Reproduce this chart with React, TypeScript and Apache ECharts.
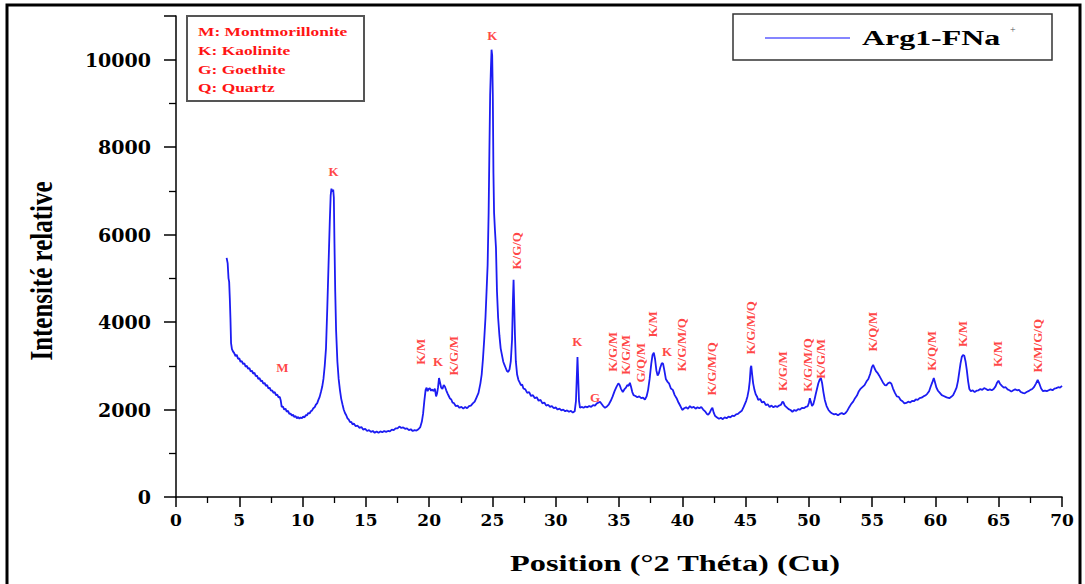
import React, { useEffect, useRef } from "react";
import * as echarts from "echarts";

const seriesName = "Arg1-FNa";

// Diffractogram [2θ, intensity] in segments
const segLowAngle: [number, number][] = [
  [4.0, 5470], [4.08, 5350], [4.15, 5000], [4.2, 4920], [4.25, 4550], [4.3, 4100], [4.35, 3520], [4.42, 3380], [4.5, 3330], [4.6, 3290],
  [4.7, 3220], [4.8, 3250], [4.9, 3160], [5.0, 3170], [5.1, 3090], [5.2, 3110], [5.3, 3040], [5.4, 3060], [5.5, 2980], [5.6, 3000],
  [5.7, 2930], [5.8, 2950], [5.9, 2870], [6.0, 2890], [6.1, 2820], [6.2, 2840], [6.3, 2760], [6.4, 2780], [6.5, 2700], [6.6, 2720],
  [6.7, 2650], [6.8, 2660], [6.9, 2590], [7.0, 2610], [7.1, 2540], [7.2, 2560], [7.3, 2480], [7.4, 2500], [7.5, 2430], [7.6, 2440],
  [7.7, 2380], [7.8, 2400], [7.9, 2330], [8.0, 2340], [8.1, 2280], [8.2, 2290], [8.28, 2200], [8.35, 2060], [8.45, 2070], [8.55, 2000],
  [8.65, 2020], [8.75, 1950], [8.85, 1970], [8.95, 1900], [9.05, 1910], [9.15, 1860], [9.25, 1880], [9.35, 1830], [9.45, 1850], [9.55, 1800],
  [9.65, 1830], [9.75, 1790], [9.85, 1820], [9.95, 1800], [10.05, 1840], [10.15, 1820], [10.25, 1870], [10.35, 1870], [10.45, 1920], [10.55, 1910],
  [10.65, 1960], [10.75, 1980], [10.85, 2030], [10.95, 2050], [11.05, 2110], [11.15, 2140], [11.25, 2220], [11.35, 2290], [11.45, 2400], [11.55, 2520],
  [11.65, 2700], [11.75, 3000], [11.85, 3400], [11.95, 4300], [12.05, 5300], [12.15, 6300], [12.22, 6900], [12.28, 7050], [12.35, 6980], [12.42, 7030],
  [12.47, 6850], [12.52, 5800], [12.58, 4700], [12.65, 3800], [12.75, 3100], [12.85, 2700], [12.95, 2450], [13.05, 2250], [13.15, 2120], [13.25, 2000],
  [13.35, 1920],
];

const segClayBand: [number, number][] = [
  [13.45, 1870], [13.55, 1800], [13.65, 1770], [13.75, 1710], [13.85, 1720], [13.95, 1660], [14.05, 1680], [14.2, 1620], [14.35, 1630], [14.5, 1580],
  [14.65, 1600], [14.8, 1540], [14.95, 1560], [15.1, 1510], [15.25, 1530], [15.4, 1490], [15.55, 1510], [15.7, 1470], [15.85, 1500], [16.0, 1470],
  [16.15, 1500], [16.3, 1480], [16.45, 1510], [16.6, 1490], [16.75, 1510], [16.9, 1500], [17.05, 1540], [17.2, 1530], [17.35, 1570], [17.5, 1570],
  [17.65, 1610], [17.8, 1580], [17.95, 1590], [18.1, 1560], [18.25, 1570], [18.4, 1530], [18.55, 1550], [18.7, 1510], [18.85, 1530], [19.0, 1520],
  [19.15, 1550], [19.3, 1600], [19.42, 1720], [19.52, 1900], [19.62, 2200], [19.72, 2450], [19.8, 2500], [19.88, 2420], [19.96, 2470], [20.05, 2490],
  [20.15, 2430], [20.25, 2460], [20.35, 2420], [20.45, 2480], [20.55, 2300], [20.62, 2360], [20.7, 2500], [20.78, 2720], [20.86, 2620], [20.95, 2500],
  [21.05, 2470], [21.15, 2560], [21.25, 2520], [21.35, 2440], [21.45, 2370], [21.55, 2310], [21.65, 2250], [21.75, 2230], [21.85, 2160], [21.95, 2150],
  [22.1, 2080], [22.25, 2090], [22.4, 2040], [22.55, 2060], [22.7, 2020], [22.85, 2060], [23.0, 2030], [23.15, 2080], [23.3, 2090], [23.45, 2140],
  [23.6, 2180], [23.75, 2280], [23.9, 2380],
];

const segMainPeak: [number, number][] = [
  [24.05, 2600], [24.15, 2800], [24.25, 3150], [24.35, 3600], [24.45, 4100], [24.55, 4800], [24.62, 5300], [24.7, 6500], [24.76, 7900], [24.82, 9200],
  [24.88, 9800], [24.93, 10230], [24.98, 10100], [25.03, 9200], [25.08, 7400], [25.13, 6500], [25.2, 6100], [25.28, 5700], [25.36, 4700], [25.45, 4100],
  [25.55, 3700], [25.65, 3400], [25.75, 3250], [25.85, 3100], [25.95, 3020], [26.05, 2950], [26.15, 2880], [26.25, 2860], [26.35, 2920], [26.45, 3100],
  [26.55, 3600], [26.62, 4500], [26.67, 4970], [26.72, 4400], [26.78, 3700], [26.85, 3100], [26.95, 2800], [27.05, 2680], [27.15, 2620], [27.25, 2560],
  [27.35, 2570], [27.45, 2480], [27.6, 2460], [27.75, 2380], [27.9, 2400], [28.05, 2310], [28.2, 2330], [28.35, 2260], [28.5, 2280], [28.65, 2200],
  [28.8, 2220], [28.95, 2140], [29.1, 2160], [29.25, 2090], [29.4, 2110], [29.55, 2060], [29.7, 2080], [29.85, 2030], [30.0, 2050], [30.15, 2000],
  [30.3, 2020], [30.45, 1980], [30.6, 2000], [30.75, 1960], [30.9, 1980], [31.05, 1950], [31.2, 1970], [31.35, 1930], [31.5, 1960], [31.6, 2200],
  [31.66, 2700], [31.72, 3200], [31.78, 2700], [31.84, 2200], [31.92, 2040],
];

const segMidAngle: [number, number][] = [
  [32.05, 2060], [32.2, 2040], [32.35, 2070], [32.5, 2050], [32.65, 2080], [32.8, 2060], [32.95, 2100], [33.1, 2090], [33.25, 2140], [33.4, 2160],
  [33.5, 2180], [33.6, 2140], [33.75, 2080], [33.9, 2040], [34.05, 2070], [34.2, 2120], [34.35, 2200], [34.5, 2300], [34.65, 2420], [34.8, 2520],
  [34.95, 2600], [35.05, 2560], [35.15, 2480], [35.3, 2400], [35.42, 2460], [35.55, 2500], [35.65, 2560], [35.75, 2540], [35.86, 2610], [35.95, 2520],
  [36.05, 2400], [36.15, 2330], [36.3, 2310], [36.45, 2280], [36.6, 2300], [36.75, 2260], [36.9, 2270], [37.05, 2230], [37.18, 2300], [37.3, 2450],
  [37.42, 2700], [37.55, 3050], [37.65, 3250], [37.75, 3300], [37.85, 3150], [37.95, 2900], [38.05, 2780], [38.15, 2830], [38.25, 2950], [38.38, 3060],
  [38.48, 3050], [38.58, 2900], [38.7, 2700], [38.82, 2640], [38.95, 2600], [39.1, 2480], [39.25, 2450], [39.4, 2330], [39.55, 2260], [39.7, 2160],
  [39.85, 2080], [40.0, 1990], [40.15, 2030], [40.3, 2050], [40.45, 2020], [40.6, 2080], [40.75, 2040], [40.9, 2060], [41.05, 2020], [41.2, 2050],
  [41.35, 2030], [41.5, 2060], [41.65, 2000], [41.8, 1960], [41.95, 1900], [42.05, 1880], [42.15, 1920], [42.28, 2000], [42.38, 2040], [42.48, 1930],
  [42.6, 1850], [42.75, 1820], [42.9, 1790], [43.05, 1810], [43.2, 1780], [43.35, 1820], [43.5, 1800], [43.65, 1840], [43.8, 1820], [43.95, 1860],
  [44.1, 1850], [44.25, 1890], [44.4, 1900], [44.55, 1940], [44.7, 1970], [44.85, 2060], [44.95, 2130],
];

const segHighAngle: [number, number][] = [
  [45.05, 2200], [45.15, 2300], [45.25, 2450], [45.33, 2650], [45.4, 2950], [45.45, 3000], [45.52, 2800], [45.6, 2600], [45.7, 2450], [45.8, 2350],
  [45.9, 2300], [46.0, 2220], [46.15, 2240], [46.3, 2160], [46.45, 2180], [46.6, 2100], [46.75, 2120], [46.9, 2060], [47.05, 2090], [47.2, 2050],
  [47.35, 2080], [47.5, 2060], [47.65, 2090], [47.8, 2110], [47.92, 2180], [48.0, 2160], [48.1, 2090], [48.25, 2050], [48.4, 2010], [48.55, 1990],
  [48.7, 1950], [48.85, 1990], [49.0, 1970], [49.15, 2010], [49.3, 2000], [49.45, 2040], [49.6, 2030], [49.75, 2060], [49.9, 2070], [50.0, 2150],
  [50.08, 2260], [50.16, 2170], [50.25, 2080], [50.35, 2120], [50.45, 2230], [50.55, 2360], [50.65, 2480], [50.75, 2600], [50.85, 2680], [50.95, 2720],
  [51.05, 2600], [51.15, 2400], [51.26, 2220], [51.4, 2080], [51.55, 1990], [51.7, 1940], [51.85, 1910], [52.0, 1890], [52.15, 1900], [52.3, 1870],
  [52.45, 1900], [52.6, 1920], [52.75, 1890], [52.9, 1920], [53.05, 1980], [53.2, 2060], [53.35, 2130], [53.5, 2180], [53.65, 2260], [53.8, 2320],
  [53.95, 2420], [54.1, 2480], [54.25, 2520], [54.4, 2560], [54.55, 2640], [54.7, 2700], [54.85, 2820], [54.98, 2970], [55.08, 3020], [55.18, 2950],
  [55.3, 2880], [55.42, 2840], [55.55, 2780], [55.7, 2700], [55.85, 2620], [56.0, 2560], [56.12, 2550], [56.25, 2600], [56.4, 2620], [56.52, 2590],
  [56.65, 2480], [56.8, 2380], [56.95, 2300],
];

const segTail: [number, number][] = [
  [57.1, 2290], [57.25, 2220], [57.4, 2190], [57.55, 2140], [57.7, 2150], [57.85, 2180], [58.0, 2160], [58.15, 2200], [58.3, 2190], [58.45, 2230],
  [58.6, 2220], [58.75, 2260], [58.9, 2270], [59.05, 2300], [59.2, 2320], [59.35, 2360], [59.5, 2420], [59.62, 2520], [59.75, 2620], [59.87, 2720],
  [59.97, 2620], [60.08, 2500], [60.2, 2430], [60.35, 2380], [60.5, 2330], [60.65, 2310], [60.8, 2290], [60.95, 2270], [61.1, 2260], [61.25, 2290],
  [61.4, 2330], [61.55, 2420], [61.67, 2500], [61.78, 2650], [61.88, 2850], [61.98, 3050], [62.08, 3200], [62.18, 3250], [62.28, 3230], [62.38, 3100],
  [62.48, 2900], [62.58, 2650], [62.68, 2470], [62.8, 2420], [62.95, 2440], [63.1, 2400], [63.25, 2430], [63.4, 2440], [63.55, 2470], [63.7, 2450],
  [63.85, 2490], [64.0, 2470], [64.15, 2440], [64.3, 2460], [64.45, 2440], [64.6, 2470], [64.75, 2530], [64.88, 2620], [64.98, 2660], [65.1, 2590],
  [65.25, 2540], [65.4, 2500], [65.55, 2510], [65.7, 2460], [65.85, 2440], [66.0, 2410], [66.15, 2440], [66.3, 2460], [66.45, 2440], [66.6, 2450],
  [66.75, 2400], [66.9, 2380], [67.05, 2370], [67.2, 2400], [67.35, 2420], [67.5, 2450], [67.65, 2470], [67.8, 2520], [67.95, 2600], [68.08, 2680],
  [68.2, 2600], [68.35, 2480], [68.5, 2420], [68.65, 2430], [68.8, 2420], [68.95, 2440], [69.1, 2460], [69.25, 2440], [69.4, 2480], [69.55, 2490],
  [69.7, 2510], [69.85, 2500], [70.0, 2540],
];

// Peak annotations (2θ, intensity, label, vertical?)
const annoX: number[] = [8.4, 12.45, 19.35, 20.7, 21.9, 25.0, 26.9, 31.7, 33.1, 34.45, 35.55, 36.7, 37.65, 38.8, 39.95, 42.3, 45.4, 47.95, 49.9, 50.95, 55.0, 59.7, 62.15, 64.9, 68.1];
const annoY: number[] = [2970, 7440, 3320, 3090, 3230, 10550, 5630, 3550, 2270, 3320, 3250, 3070, 3950, 3320, 3480, 2930, 3870, 2880, 3020, 3160, 3780, 3340, 3730, 3270, 3460];
const annoText: string[] = ["M", "K", "K/M", "K", "K/G/M", "K", "K/G/Q", "K", "G", "K/G/M", "K/G/M", "G/Q/M", "K/M", "K", "K/G/M/Q", "K/G/M/Q", "K/G/M/Q", "K/G/M", "K/G/M/Q", "K/G/M", "K/Q/M", "K/Q/M", "K/M", "K/M", "K/M/G/Q"];
const annoVertical: boolean[] = [false, false, true, false, true, false, true, false, false, true, true, true, true, false, true, true, true, true, true, true, true, true, true, true, true];

const keyLines: string[] = ["M: Montmorillonite", "K: Kaolinite", "G: Goethite", "Q: Quartz"];

const xTitle = "Position (°2 Théta) (Cu)";
const yTitle = "Intensité relative";

export default function App() {
  const ref = useRef<HTMLDivElement>(null);

  useEffect(() => {
    if (!ref.current) return;
    document.body.style.margin = "0";
    const chart = echarts.init(ref.current, undefined, { renderer: "svg" });
    const red = "#ff1414";
    const serif = "'Liberation Serif', 'Times New Roman', serif";
    const tickFont = "'DejaVu Serif', serif";

    const lineData = [
      ...segLowAngle,
      ...segClayBand,
      ...segMainPeak,
      ...segMidAngle,
      ...segHighAngle,
      ...segTail,
    ];
    const annoData = annoX.map((x, i) => ({
      name: annoText[i],
      value: [x, annoY[i]],
      label: { rotate: annoVertical[i] ? 90 : 0 },
    }));

    const keyGraphics: any[] = keyLines.map((t, i) => ({
      type: "text",
      x: 198,
      y: 32 + i * 18.8,
      scaleX: 1.45,
      z: 20,
      style: {
        text: t,
        fill: red,
        fontFamily: serif,
        fontWeight: "bold",
        fontSize: 12,
        align: "left",
        verticalAlign: "middle",
        textAlign: "left",
        textVerticalAlign: "middle",
      },
    }));

    const option: any = {
      animation: false,
      backgroundColor: "#ffffff",
      grid: { left: 176, right: 23, top: 16, bottom: 87, containLabel: false },
      tooltip: { show: false },
      xAxis: {
        type: "value",
        min: 0,
        max: 70,
        interval: 5,
        splitLine: { show: false },
        axisLine: { show: true, onZero: false, lineStyle: { color: "#000", width: 1.5 } },
        axisTick: { show: true, length: 10, lineStyle: { color: "#000", width: 1.5 } },
        minorTick: { show: true, splitNumber: 2, length: 6, lineStyle: { color: "#000", width: 1.3 } },
        axisLabel: {
          color: "#000",
          fontFamily: tickFont,
          fontWeight: "bold",
          fontSize: 17,
          margin: 14,
        },
      },
      yAxis: {
        type: "value",
        min: 0,
        max: 11000,
        interval: 2000,
        splitLine: { show: false },
        axisLine: { show: true, onZero: false, lineStyle: { color: "#000", width: 1.5 } },
        axisTick: { show: true, length: 12, lineStyle: { color: "#000", width: 1.5 } },
        minorTick: { show: true, splitNumber: 2, length: 7, lineStyle: { color: "#000", width: 1.3 } },
        axisLabel: {
          color: "#000",
          fontFamily: tickFont,
          fontWeight: "bold",
          fontSize: 19,
          margin: 25,
          showMaxLabel: false,
          formatter: (v: number) => String(v),
        },
      },
      series: [
        {
          name: seriesName,
          type: "line",
          data: lineData,
          symbol: "none",
          smooth: false,
          lineStyle: { color: "#1c1cf2", width: 1.8 },
          z: 3,
        },
        {
          name: "annotations",
          type: "scatter",
          data: annoData,
          symbolSize: 0.1,
          silent: true,
          itemStyle: { color: "rgba(0,0,0,0)" },
          z: 5,
          label: {
            show: true,
            position: "inside",
            formatter: (p: any) => p.name,
            color: red,
            fontFamily: serif,
            fontWeight: "bold",
            fontSize: 13,
          },
        },
      ],
      graphic: [
        {
          type: "rect",
          z: 50,
          shape: { x: 7, y: 5, width: 1073, height: 600 },
          style: { fill: "none", stroke: "#000", lineWidth: 3 },
        },
        {
          type: "rect",
          z: 10,
          shape: { x: 187, y: 16, width: 177, height: 85 },
          style: { fill: "#fff", stroke: "#555", lineWidth: 2 },
        },
        ...keyGraphics,
        {
          type: "rect",
          z: 10,
          shape: { x: 733, y: 14, width: 319, height: 46 },
          style: { fill: "#fff", stroke: "#333", lineWidth: 1.5 },
        },
        {
          type: "line",
          z: 20,
          shape: { x1: 765, y1: 38, x2: 850, y2: 38 },
          style: { stroke: "#8585ff", lineWidth: 2 },
        },
        {
          type: "text",
          x: 862,
          y: 38,
          scaleX: 1.45,
          z: 20,
          style: {
            text: seriesName,
            fill: "#000",
            fontFamily: serif,
            fontWeight: "bold",
            fontSize: 22,
            align: "left",
            verticalAlign: "middle",
            textAlign: "left",
            textVerticalAlign: "middle",
          },
        },
        {
          type: "text",
          x: 1010,
          y: 29,
          z: 20,
          style: {
            text: "+",
            fill: "#555",
            fontFamily: serif,
            fontSize: 10,
            align: "left",
            verticalAlign: "middle",
            textAlign: "left",
            textVerticalAlign: "middle",
          },
        },
        {
          type: "text",
          x: 42,
          y: 271,
          rotation: Math.PI / 2,
          scaleX: 1.04,
          scaleY: 1.3,
          z: 20,
          style: {
            text: yTitle,
            fill: "#000",
            fontFamily: serif,
            fontWeight: "bold",
            fontSize: 24,
            align: "center",
            verticalAlign: "middle",
            textAlign: "center",
            textVerticalAlign: "middle",
          },
        },
        {
          type: "text",
          x: 675,
          y: 563,
          scaleX: 1.35,
          z: 20,
          style: {
            text: xTitle,
            fill: "#000",
            fontFamily: serif,
            fontWeight: "bold",
            fontSize: 24,
            align: "center",
            verticalAlign: "middle",
            textAlign: "center",
            textVerticalAlign: "middle",
          },
        },
      ],
    };

    chart.setOption(option);
    return () => {
      chart.dispose();
    };
  }, []);

  return <div ref={ref} style={{ width: 1085, height: 584, background: "#fff" }} />;
}
